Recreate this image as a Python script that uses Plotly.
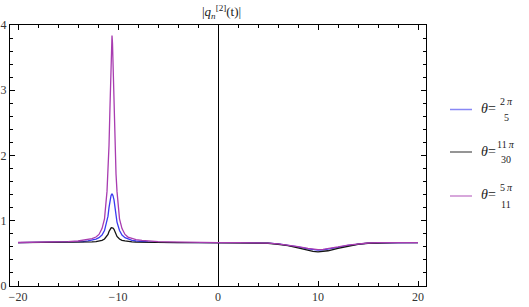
import plotly.graph_objects as go

# ---------------- data ----------------
t_vals = [-20, -18, -16, -15, -14, -13.5, -13, -12.6, -12.2, -11.9, -11.6, -11.35,
          -11.1, -11.0, -10.9, -10.8, -10.7, -10.65, -10.6, -10.55, -10.5, -10.4,
          -10.3, -10.2, -10.1, -9.85, -9.6, -9.3, -9.0, -8.6, -8.2, -7.6, -7.0,
          -6, -5, -4, -2, 0, 2, 3, 4, 5, 6, 7, 8, 9, 9.5, 10, 10.5, 11, 12, 13,
          14, 15, 16, 17, 18, 20]

q_blue = [0.666, 0.667, 0.668, 0.670, 0.675, 0.680, 0.690, 0.700, 0.720, 0.740,
          0.780, 0.850, 0.980, 1.070, 1.200, 1.320, 1.385, 1.400, 1.410, 1.400,
          1.385, 1.320, 1.200, 1.070, 0.980, 0.850, 0.780, 0.740, 0.720, 0.700,
          0.690, 0.680, 0.675, 0.670, 0.668, 0.667, 0.666, 0.666, 0.666, 0.665,
          0.664, 0.657, 0.645, 0.627, 0.600, 0.568, 0.555, 0.550, 0.553, 0.563,
          0.592, 0.622, 0.645, 0.657, 0.663, 0.665, 0.666, 0.666]

q_black = [0.666, 0.666, 0.667, 0.668, 0.670, 0.671, 0.672, 0.675, 0.680, 0.690,
           0.700, 0.720, 0.760, 0.790, 0.835, 0.870, 0.888, 0.893, 0.895, 0.893,
           0.888, 0.870, 0.835, 0.790, 0.760, 0.720, 0.700, 0.690, 0.680, 0.675,
           0.672, 0.670, 0.669, 0.667, 0.666, 0.666, 0.666, 0.666, 0.666, 0.665,
           0.663, 0.655, 0.640, 0.620, 0.585, 0.545, 0.530, 0.524, 0.528, 0.540,
           0.575, 0.610, 0.640, 0.655, 0.662, 0.665, 0.666, 0.666]

q_purple = [0.667, 0.669, 0.675, 0.680, 0.690, 0.700, 0.710, 0.725, 0.750, 0.790,
            0.880, 1.030, 1.450, 1.720, 2.150, 2.750, 3.420, 3.720, 3.840, 3.720,
            3.420, 2.750, 2.150, 1.720, 1.450, 1.030, 0.880, 0.790, 0.750, 0.725,
            0.710, 0.700, 0.690, 0.680, 0.675, 0.671, 0.668, 0.666, 0.666, 0.665,
            0.664, 0.658, 0.647, 0.630, 0.605, 0.575, 0.562, 0.557, 0.560, 0.570,
            0.598, 0.627, 0.648, 0.659, 0.664, 0.665, 0.666, 0.666]

series_names = ["θ=2π/5", "θ=11π/30", "θ=5π/11"]
legend_num = ["2\u2009<i>π</i>", "11\u2009<i>π</i>", "5\u2009<i>π</i>"]
legend_den = ["5", "30", "11"]
colors = ["#3a3af0", "#141414", "#a83cb0"]
x_ticks = [-20, -10, 0, 10, 20]
y_ticks = [0, 1, 2, 3, 4]

# ---------------- figure ----------------
W, H = 529, 307
ML, MR, MT, MB = 10, 103, 25, 21
PW, PH = W - ML - MR, H - MT - MB

fig = go.Figure()
for name, ys, c in zip(series_names, [q_blue, q_black, q_purple], colors):
    fig.add_trace(go.Scatter(x=t_vals, y=ys, mode="lines", name=name,
                             line=dict(color=c, width=1.3), showlegend=False,
                             hoverinfo="skip"))

tickfont = dict(family="Liberation Serif", size=12, color="#333333")
fig.update_xaxes(range=[-20.8, 20.8], tickvals=x_ticks, ticks="inside", ticklen=5,
                 tickcolor="black", tickwidth=1, showline=True, linecolor="black",
                 linewidth=1, mirror="allticks", showgrid=False, zeroline=True,
                 zerolinecolor="black", zerolinewidth=1, tickfont=tickfont,
                 automargin=False, ticklabelstandoff=0,
                 minor=dict(dtick=2, tick0=0, ticks="inside", ticklen=3,
                            tickcolor="black", showgrid=False))
fig.update_yaxes(range=[0, 4], tickvals=y_ticks, ticks="inside", ticklen=5,
                 tickcolor="black", tickwidth=1, showline=True, linecolor="black",
                 linewidth=1, mirror="allticks", showgrid=False, zeroline=False,
                 tickfont=tickfont, ticklabelstandoff=0, automargin=False,
                 minor=dict(dtick=0.2, tick0=0, ticks="inside", ticklen=3,
                            tickcolor="black", showgrid=False))

def px(xp):
    return (xp - ML) / PW

def py(yp):
    return (H - MB - yp) / PH

annotations = [dict(text="|<i>q</i><sub><i>n</i></sub><sup>[2]</sup>(t)|",
                    x=px(221), y=py(12), xref="paper", yref="paper",
                    showarrow=False, xanchor="center", yanchor="middle",
                    font=dict(family="Liberation Serif", size=13, color="#222"))]
shapes = []
legend_y = [109.5, 152, 196]
for i in range(3):
    ly = legend_y[i]
    shapes.append(dict(type="line", xref="paper", yref="paper",
                       x0=px(450), x1=px(472), y0=py(ly), y1=py(ly),
                       line=dict(color=colors[i], width=1.5), opacity=0.6))
    annotations.append(dict(text="<i>θ</i>=", x=px(479), y=py(ly - 1),
                            xref="paper", yref="paper", showarrow=False,
                            xanchor="left", yanchor="middle",
                            font=dict(family="Liberation Serif", size=14, color="#222")))
    annotations.append(dict(text=legend_num[i], x=px(506), y=py(ly - 8),
                            xref="paper", yref="paper", showarrow=False,
                            xanchor="center", yanchor="middle",
                            font=dict(family="Liberation Serif", size=10, color="#222")))
    annotations.append(dict(text=legend_den[i], x=px(506), y=py(ly + 8),
                            xref="paper", yref="paper", showarrow=False,
                            xanchor="center", yanchor="middle",
                            font=dict(family="Liberation Serif", size=10, color="#222")))

fig.update_layout(width=W, height=H, margin=dict(l=ML, r=MR, t=MT, b=MB),
                  plot_bgcolor="white", paper_bgcolor="white", hovermode=False,
                  annotations=annotations, shapes=shapes, showlegend=False)

fig.write_html("out.html", config={"displayModeBar": False},
               post_script="document.body.style.margin='0px';")
